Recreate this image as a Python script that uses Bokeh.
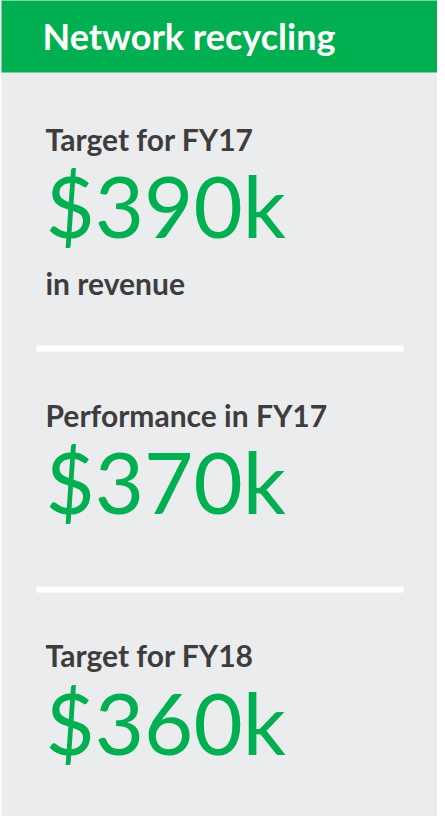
from bokeh.plotting import figure
from bokeh.models import Range1d
from bokeh.core.properties import value
from bokeh.embed import file_html
from bokeh.resources import INLINE

# ---- content ----
title = "Network recycling"
labels = ["Target for FY17", "Performance in FY17", "Target for FY18"]
amounts = [390, 370, 360]          # $k
notes = ["in revenue", "", ""]

GREEN = "#00AF50"
GRAY = "#EBECEE"
DARK = "#3D3D3D"
FONT = "Lato"

W, H = 437, 816
p = figure(width=W, height=H, output_backend="svg", toolbar_location=None,
           x_range=Range1d(0, W), y_range=Range1d(H, 0),
           min_border=0, background_fill_color="white", border_fill_color="white")
p.axis.visible = False
p.grid.visible = False
p.outline_line_color = None

# card background and header band
p.quad(left=[1], right=[W], top=[-3], bottom=[H], fill_color=GRAY, line_color=None)
p.quad(left=[1], right=[W], top=[-3], bottom=[72], fill_color=GREEN, line_color=None)
p.text(x=[42], y=[35], text=[title], text_color="white", text_font=value(FONT),
       text_font_style="bold", text_font_size="36px", text_baseline="alphabetic")

# sections
label_y = [138, 414, 654]
amount_y = [204, 480, 721]
note_y = [282, None, None]
dividers = [345, 586]

for i, lab in enumerate(labels):
    p.text(x=[45], y=[label_y[i]], text=[lab], text_color=DARK, text_font=value(FONT),
           text_font_style="bold", text_font_size="30px", text_baseline="alphabetic")
    p.text(x=[45], y=[amount_y[i]], text=["$%dk" % amounts[i]], text_color=GREEN,
           text_font=value(FONT), text_font_size="85px", text_baseline="alphabetic")
    if notes[i]:
        p.text(x=[45], y=[note_y[i]], text=[notes[i]], text_color=DARK, text_font=value(FONT),
               text_font_style="bold", text_font_size="30px", text_baseline="alphabetic")

p.quad(left=[36] * len(dividers), right=[403] * len(dividers),
       top=dividers, bottom=[d + 6 for d in dividers], fill_color="white", line_color=None)

open("out.html", "w").write(file_html(p, INLINE))
